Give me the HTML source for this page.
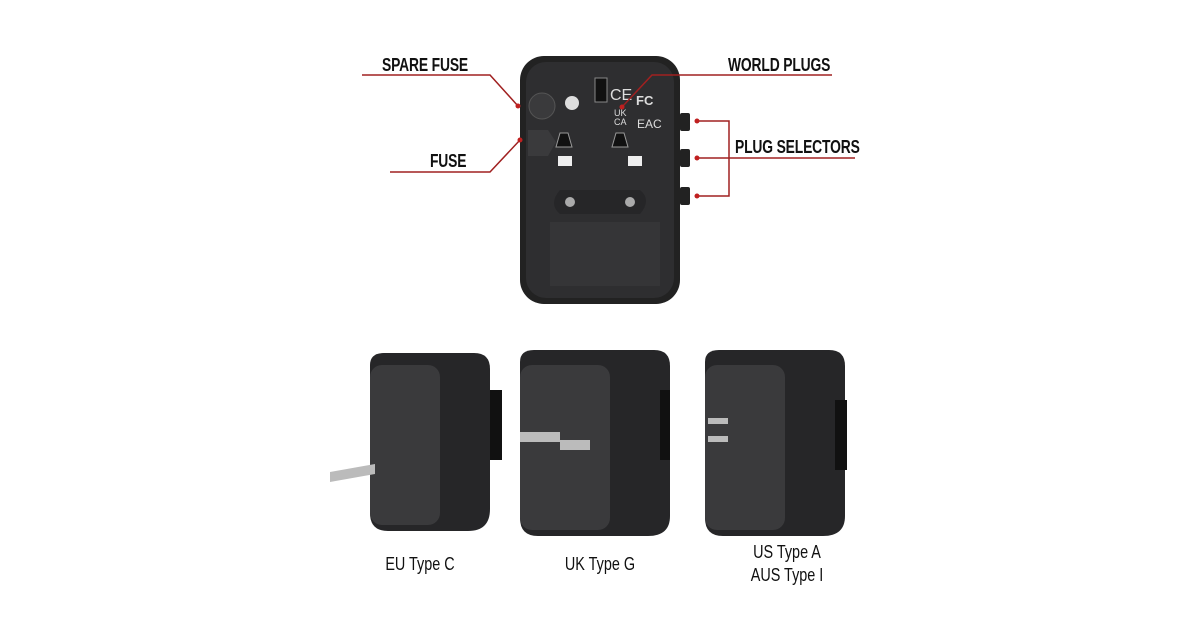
<!DOCTYPE html>
<html><head><meta charset="utf-8"><style>
body{margin:0;width:1200px;height:630px;background:#fff;overflow:hidden;position:relative;font-family:"Liberation Sans",sans-serif}
.t{position:absolute;font-weight:bold;font-size:18px;color:#111;white-space:nowrap;transform:scaleX(.77);transform-origin:left;letter-spacing:-0.2px}
.c{position:absolute;font-size:18px;color:#111;text-align:center;width:200px;line-height:23px;transform:scaleX(.8);font-weight:500}
</style></head><body>
<svg width="1200" height="630" style="position:absolute;left:0;top:0">
<rect x="520" y="56" width="160" height="248" rx="24" fill="#222"/>
<rect x="526" y="62" width="148" height="236" rx="20" fill="#2e2e30"/>
<circle cx="542" cy="106" r="13" fill="#3a3a3c" stroke="#555"/>
<path d="M528 130 h20 l8 12 -8 14 h-20z" fill="#3a3a3c"/>
<circle cx="572" cy="103" r="7" fill="#ddd"/>
<rect x="595" y="78" width="12" height="24" fill="#111" stroke="#888"/>
<text x="610" y="100" fill="#ddd" font-size="16" font-family="Liberation Sans">CE</text>
<text x="636" y="105" fill="#ddd" font-size="13" font-weight="bold" font-family="Liberation Sans">FC</text>
<text x="614" y="116" fill="#ddd" font-size="9" font-family="Liberation Sans">UK</text>
<text x="614" y="125" fill="#ddd" font-size="9" font-family="Liberation Sans">CA</text>
<text x="637" y="128" fill="#ddd" font-size="12" font-family="Liberation Sans">EAC</text>
<path d="M560 133 l8 0 l4 14 l-16 0z M616 133 l8 0 l4 14 l-16 0z" fill="#111" stroke="#999"/>
<rect x="558" y="156" width="14" height="10" fill="#eee"/><rect x="628" y="156" width="14" height="10" fill="#eee"/>
<path d="M560 190 h80 q12 10 0 24 h-80 q-12 -10 0 -24z" fill="#262628"/>
<circle cx="570" cy="202" r="5" fill="#aaa"/><circle cx="630" cy="202" r="5" fill="#aaa"/>
<rect x="550" y="222" width="110" height="64" fill="#3a3a3c" opacity=".6"/>
<g fill="#222"><rect x="680" y="113" width="10" height="18" rx="2"/><rect x="680" y="149" width="10" height="18" rx="2"/><rect x="680" y="187" width="10" height="18" rx="2"/></g>
<g stroke="#a02020" stroke-width="1.5" fill="none">
<path d="M362 75 H490 L518 106"/>
<path d="M390 172 H490 L520 140"/>
<path d="M832 75 H652 L622 107"/>
<path d="M697 121 H729 V196 H697 M697 158 H855"/>
</g>
<g fill="#c02020"><circle cx="518" cy="106" r="2.5"/><circle cx="520" cy="140" r="2.5"/><circle cx="622" cy="107" r="2.5"/><circle cx="697" cy="121" r="2.5"/><circle cx="697" cy="158" r="2.5"/><circle cx="697" cy="196" r="2.5"/></g>
<g fill="#262628">
<path d="M370 365 q0 -12 14 -12 h90 q16 0 16 16 v140 q0 22 -22 22 h-80 q-18 0 -18 -18z"/>
<path d="M520 362 q0 -12 14 -12 h120 q16 0 16 16 v150 q0 20 -22 20 h-110 q-18 0 -18 -18z"/>
<path d="M705 362 q0 -12 14 -12 h110 q16 0 16 16 v150 q0 20 -22 20 h-100 q-18 0 -18 -18z"/>
</g>
<g fill="#3a3a3c">
<rect x="370" y="365" width="70" height="160" rx="12"/>
<rect x="520" y="365" width="90" height="165" rx="12"/>
<rect x="705" y="365" width="80" height="165" rx="12"/>
</g>
<g fill="#bbb"><path d="M330 472 l45 -8 v10 l-45 8z"/><rect x="520" y="432" width="40" height="10"/><rect x="560" y="440" width="30" height="10"/><rect x="708" y="418" width="20" height="6"/><rect x="708" y="436" width="20" height="6"/></g>
<g fill="#111"><rect x="490" y="390" width="12" height="70"/><rect x="660" y="390" width="10" height="70"/><rect x="835" y="400" width="12" height="70"/></g>
</svg>
<div class="t" style="left:382px;top:55px">SPARE FUSE</div>
<div class="t" style="left:430px;top:151px">FUSE</div>
<div class="t" style="left:728px;top:55px">WORLD PLUGS</div>
<div class="t" style="left:735px;top:137px">PLUG SELECTORS</div>
<div class="c" style="left:320px;top:553px">EU Type C</div>
<div class="c" style="left:500px;top:553px">UK Type G</div>
<div class="c" style="left:687px;top:541px">US Type A<br>AUS Type I</div>
</body></html>
